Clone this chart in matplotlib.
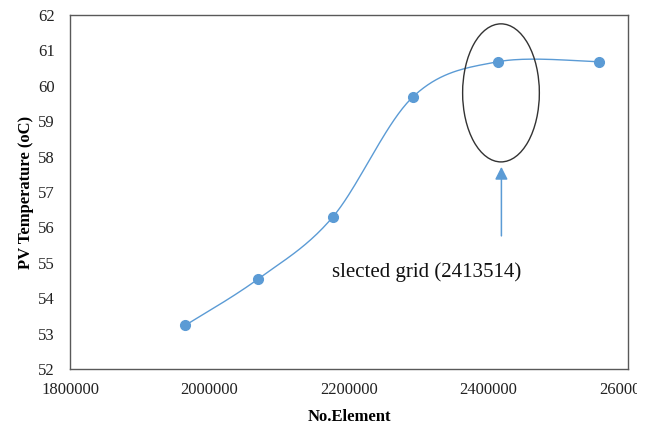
import numpy as np
import matplotlib
matplotlib.use("Agg")
import matplotlib.pyplot as plt
from matplotlib.patches import Ellipse
from matplotlib.transforms import Bbox

# data
elements = [1965000, 2069500, 2176600, 2291800, 2413514, 2558000]
temperature = [53.23, 54.54, 56.29, 59.69, 60.68, 60.68]
x_ticks = [1800000, 2000000, 2200000, 2400000, 2600000]
y_ticks = [52, 53, 54, 55, 56, 57, 58, 59, 60, 61, 62]
note = "slected grid (2413514)"

blue = "#5B9BD5"


def smooth_line(xs, ys, steps=40):
    # Excel-like smoothed line: cubic bezier with catmull-rom control points
    xs = np.asarray(xs, float)
    ys = np.asarray(ys, float)
    px = np.concatenate([[xs[0]], xs, [xs[-1]]])
    py = np.concatenate([[ys[0]], ys, [ys[-1]]])
    out_x, out_y = [], []
    t = np.linspace(0, 1, steps)
    for i in range(1, len(px) - 2):
        p0 = np.array([px[i], py[i]])
        p3 = np.array([px[i + 1], py[i + 1]])
        c1 = p0 + (np.array([px[i + 1], py[i + 1]]) - np.array([px[i - 1], py[i - 1]])) / 6
        c2 = p3 - (np.array([px[i + 2], py[i + 2]]) - np.array([px[i], py[i]])) / 6
        pts = ((1 - t) ** 3)[:, None] * p0 + (3 * (1 - t) ** 2 * t)[:, None] * c1 \
            + (3 * (1 - t) * t ** 2)[:, None] * c2 + (t ** 3)[:, None] * p3
        out_x.extend(pts[:, 0])
        out_y.extend(pts[:, 1])
    return out_x, out_y


plt.rcParams["font.family"] = ["Liberation Serif", "DejaVu Serif"]

fig = plt.figure(figsize=(6.56, 4.26), dpi=100)
ax = fig.add_axes([70 / 656, 1 - 369 / 426, 558 / 656, 354 / 426])

sx, sy = smooth_line(elements, temperature)
ax.plot(sx, sy, color=blue, lw=1.0, zorder=2)
ax.plot(elements, temperature, "o", color=blue, ms=7, zorder=3)

ax.set_xlim(1800000, 2600000)
ax.set_ylim(52, 62)
ax.set_xticks(x_ticks)
ax.set_yticks(y_ticks)
ax.set_xticklabels([str(v) for v in x_ticks])
ax.tick_params(length=0, labelsize=12, colors="#222222")
ax.tick_params(axis="y", pad=11)
ax.tick_params(axis="x", pad=9)
for s in ax.spines.values():
    s.set_color("#595959")
    s.set_linewidth(1.0)

ax.set_xlabel("No.Element", fontsize=12, fontweight="bold", labelpad=8.5)
ax.set_ylabel("PV Temperature (oC)", fontsize=12, fontweight="bold", labelpad=2.5)

# selected grid marker
ax.add_patch(Ellipse((2417900, 59.8), 110000, 3.9, fill=False,
                     edgecolor="#333333", lw=1.0, zorder=4))
ax.annotate("", xy=(2418500, 57.71), xytext=(2418500, 55.76),
            arrowprops=dict(arrowstyle="-|>,head_length=0.75,head_width=0.38",
                            color=blue, lw=1.1, shrinkA=0, shrinkB=0))
ax.text(2311000, 54.75, note, fontsize=15, ha="center", va="center", color="#111111")

# the last tick label is cut off at the right edge in the original
clip = Bbox.from_extents(0, 0, 637, 426)
for lab in ax.get_xticklabels():
    lab.set_clip_box(clip)
    lab.set_clip_on(True)

fig.savefig("out.png", dpi=100)
